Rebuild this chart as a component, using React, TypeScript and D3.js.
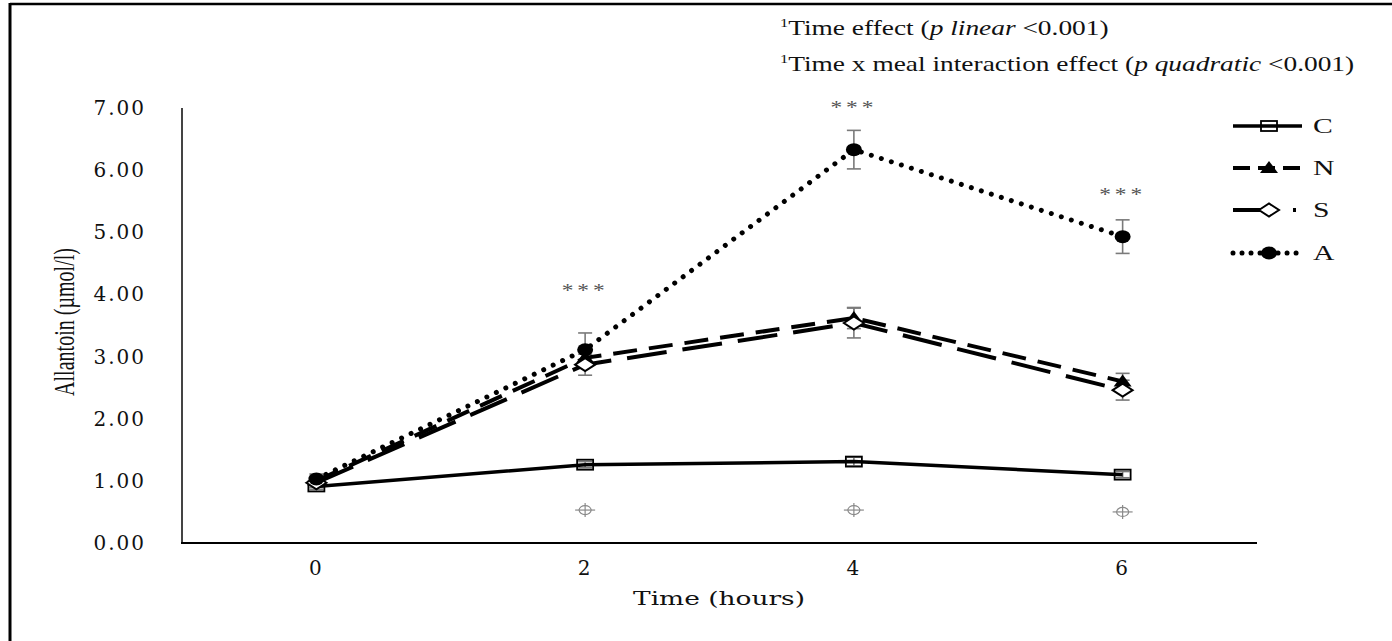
import React from "react";
import * as d3 from "d3";

// time points (hours)
const times = ["0", "2", "4", "6"];

// group means, Allantoin (µmol/l)
const seriesC = [0.91, 1.26, 1.31, 1.1];
const seriesN = [1.0, 2.98, 3.62, 2.6];
const seriesS = [0.97, 2.87, 3.54, 2.46];
const seriesA = [1.03, 3.11, 6.33, 4.93];

// standard errors
const errC = [0.05, 0.05, 0.07, 0.05];
const errN = [0.08, 0.1, 0.17, 0.13];
const errS = [0.08, 0.17, 0.24, 0.16];
const errA = [0.08, 0.27, 0.31, 0.27];

// significance marks (*** above A, cross marks under C)
const starTimes = ["2", "4", "6"];
const starLevels = [4.05, 7.0, 5.6];
const crossTimes = ["2", "4", "6"];
const crossLevels = [0.53, 0.53, 0.5];

const yTicks = [0, 1, 2, 3, 4, 5, 6, 7];

const series = [
  { key: "C", values: seriesC, err: errC, dash: "", width: 3.5, marker: "square" },
  { key: "N", values: seriesN, err: errN, dash: "24 12", width: 4, marker: "triangle" },
  { key: "S", values: seriesS, err: errS, dash: "40 16", width: 4, marker: "diamond" },
  { key: "A", values: seriesA, err: errA, dash: "0.01 10.5", width: 5, marker: "circle" },
];
const legendDash = { C: undefined, N: "17 8", S: "36 24 3 9", A: "0.01 9" };

const serif = "'Liberation Serif', 'Times New Roman', serif";
const wide = "'DejaVu Serif', serif";

// the source picture is stretched sideways, text follows it
const Stretch = ({ x, y, sx = 1.33, rotate = 0, children }) => (
  <g transform={`translate(${x},${y}) scale(${sx},1)${rotate ? ` rotate(${rotate})` : ""}`}>{children}</g>
);

const Marker = ({ type, x, y }) => {
  if (type === "square")
    return <rect x={x - 8} y={y - 5} width={16} height={10} fill="none" stroke="#000" strokeWidth={1.8} />;
  if (type === "triangle")
    return <path d={`M${x},${y - 7}L${x + 9},${y + 5}L${x - 9},${y + 5}Z`} fill="#000" />;
  if (type === "diamond")
    return (
      <path
        d={`M${x - 10},${y}L${x},${y - 6.5}L${x + 10},${y}L${x},${y + 6.5}Z`}
        fill="#fff"
        stroke="#000"
        strokeWidth={2}
      />
    );
  return <ellipse cx={x} cy={y} rx={8} ry={6.5} fill="#000" />;
};

export default function App() {
  const width = 1392;
  const height = 641;

  const x = d3.scalePoint().domain(times).range([182, 1257]).padding(0.5);
  const y = d3.scaleLinear().domain([0, 7]).range([543, 108]);

  const line = d3
    .line<number>()
    .x((d, i) => x(times[i]))
    .y((d) => y(d));

  const legendRows = [126, 168, 210, 253];

  return (
    <svg
      width={width}
      height={height}
      style={{ position: "absolute", left: 0, top: 0, background: "#fff" }}
    >
      {/* frame */}
      <line x1={10} x2={width} y1={4} y2={4} stroke="#000" strokeWidth={2.5} />
      <line x1={10} x2={10} y1={3} y2={height} stroke="#000" strokeWidth={3} />

      {/* notes */}
      <g fontFamily={serif} fontSize={20} fill="#111">
        <Stretch x={780} y={35} sx={1.37}>
          <text>
            <tspan fontSize={12} dy={-8}>1</tspan>
            <tspan dy={8}>Time effect (</tspan>
            <tspan fontStyle="italic">p linear</tspan>
            <tspan> &lt;0.001)</tspan>
          </text>
        </Stretch>
        <Stretch x={780} y={71} sx={1.37}>
          <text>
            <tspan fontSize={12} dy={-8}>1</tspan>
            <tspan dy={8}>Time x meal interaction effect (</tspan>
            <tspan fontStyle="italic">p quadratic</tspan>
            <tspan> &lt;0.001)</tspan>
          </text>
        </Stretch>
      </g>

      {/* axes */}
      <line x1={182} x2={182} y1={y(7)} y2={y(0)} stroke="#444" strokeWidth={2} />
      <line x1={181} x2={1257} y1={y(0)} y2={y(0)} stroke="#000" strokeWidth={2} />
      <g fontFamily={wide} fontSize={20} fill="#111" letterSpacing={2}>
        {yTicks.map((t) => (
          <text key={t} x={146} y={y(t)} textAnchor="end" dominantBaseline="central">
            {d3.format(".2f")(t)}
          </text>
        ))}
        {times.map((t) => (
          <text key={t} x={x(t)} y={568} textAnchor="middle" dominantBaseline="central">
            {t}
          </text>
        ))}
      </g>
      <text
        x={719}
        y={598}
        fontFamily={wide}
        fontSize={19}
        textAnchor="middle"
        dominantBaseline="central"
        textLength={172}
        lengthAdjust="spacingAndGlyphs"
        fill="#111"
      >
        Time (hours)
      </text>
      <Stretch x={65} y={322} sx={1.25} rotate={-90}>
        <text
          fontFamily={serif}
          fontSize={23}
          textAnchor="middle"
          dominantBaseline="central"
          textLength={148}
          lengthAdjust="spacingAndGlyphs"
          fill="#111"
        >
          Allantoin (µmol/l)
        </text>
      </Stretch>

      {/* error bars */}
      <g stroke="#7a7a7a" strokeWidth={1.6}>
        {series.map((s) =>
          s.values.map((v, i) => {
            const cx = x(times[i]);
            const y1 = y(v + s.err[i]);
            const y2 = y(v - s.err[i]);
            return (
              <g key={s.key + i}>
                <line x1={cx} x2={cx} y1={y1} y2={y2} />
                <line x1={cx - 7} x2={cx + 7} y1={y1} y2={y1} />
                <line x1={cx - 7} x2={cx + 7} y1={y2} y2={y2} />
              </g>
            );
          })
        )}
      </g>

      {/* lines */}
      {series.map((s) => (
        <path
          key={s.key}
          d={line(s.values) || ""}
          fill="none"
          stroke="#000"
          strokeWidth={s.width}
          strokeDasharray={s.dash || undefined}
          strokeLinecap={s.key === "A" ? "round" : "butt"}
        />
      ))}

      {/* markers */}
      {series.map((s) =>
        s.values.map((v, i) => (
          <Marker key={s.key + "m" + i} type={s.marker} x={x(times[i])} y={y(v)} />
        ))
      )}

      {/* significance */}
      {starTimes.map((t, i) => (
        <Stretch key={"st" + t} x={x(t)} y={y(starLevels[i])} sx={1.3}>
          <text
            textAnchor="middle"
            dominantBaseline="central"
            fontFamily={serif}
            fontSize={18}
            letterSpacing={3}
            fill="#555"
          >
            ***
          </text>
        </Stretch>
      ))}
      {crossTimes.map((t, i) => {
        const cx = x(t);
        const cy = y(crossLevels[i]);
        return (
          <g key={"cr" + t} stroke="#8a8a8a" strokeWidth={1.2} fill="none">
            <ellipse cx={cx} cy={cy} rx={6} ry={4.5} />
            <line x1={cx - 10} x2={cx + 10} y1={cy} y2={cy} />
            <line x1={cx} x2={cx} y1={cy - 7} y2={cy + 7} />
          </g>
        );
      })}

      {/* legend */}
      {series.map((s, i) => {
        const ly = legendRows[i];
        return (
          <g key={"lg" + s.key}>
            <line
              x1={1233}
              x2={1302}
              y1={ly}
              y2={ly}
              stroke="#000"
              strokeWidth={s.width}
              strokeDasharray={legendDash[s.key]}
              strokeLinecap={s.key === "A" ? "round" : "butt"}
            />
            <Marker type={s.marker} x={1269} y={ly} />
            <Stretch x={1313} y={ly} sx={1.35}>
              <text fontFamily={serif} fontSize={22} dominantBaseline="central" fill="#111">
                {s.key}
              </text>
            </Stretch>
          </g>
        );
      })}
    </svg>
  );
}
